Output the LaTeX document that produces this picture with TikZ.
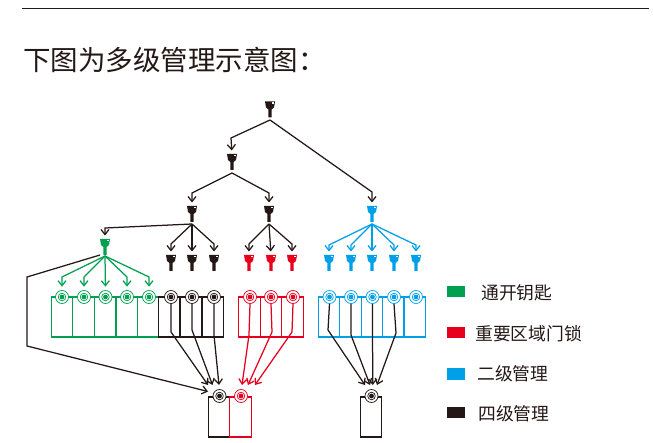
\documentclass[tikz,border=0pt]{standalone}
\usepackage{fontspec}
\setmainfont{Noto Sans CJK SC}
\usepackage{tikz}
\usetikzlibrary{arrows.meta,positioning}
\usepackage{xcolor}
\definecolor{keyblack}{RGB}{35,24,21}
\definecolor{keygreen}{RGB}{0,160,80}
\definecolor{keyred}{RGB}{230,0,30}
\definecolor{keyblue}{RGB}{0,160,233}
\tikzstyle{arrow} = [line width=1.25pt,-{Straight Barb[length=5pt,width=8pt]},color=keyblack]
\tikzstyle{keyarrow} = [arrow,shorten >=3.5pt]

\begin{document}
\begin{tikzpicture}[x=1pt, y=-1pt,
    keynode/.style={rectangle, minimum width=11pt, minimum height=16pt, inner sep=0pt, outer sep=0pt,
      path picture={
        \fill[#1, shift={(path picture bounding box.center)}] (-5,-8) -- (5,-8) -- (4,-2) -- (1.6,0) -- (1.6,8) -- (-1.6,8) -- (-1.6,0) -- (-4,-2) -- cycle;
        \fill[white, shift={(path picture bounding box.center)}] (1.5,-7) rectangle (3.5,-5.5);
      }},
    roombox/.style={rectangle, draw=#1, line width=1.15pt, minimum width=21.5pt, minimum height=40pt, inner sep=0pt, outer sep=0pt},
    lock/.style={circle, draw=#1, fill=white, line width=0.7pt, minimum size=13pt, inner sep=0pt,
      path picture={
        \draw[#1, line width=0.7pt] (path picture bounding box.center) circle (3.8);
        \fill[#1] (path picture bounding box.center) circle (2.4);
      }},
    swatch/.style={rectangle, fill=#1, minimum width=18pt, minimum height=11pt, inner sep=0pt},
    legendtext/.style={anchor=west, inner sep=0pt, font=\fontsize{17.8}{20}\selectfont, text=keyblack}]
\useasboundingbox (0,0) rectangle (653,443);

% Header
\coordinate (ruleleft) at (22,8.5);
\coordinate (ruleright) at (649,8.5);
\draw[keyblack, line width=1pt] (ruleleft) -- (ruleright);
\node[anchor=west, inner sep=0pt, font=\fontsize{27.5}{30}\selectfont, text=keyblack] (title) at (23,60) {下图为多级管理示意图：};

% Keys
\node[keynode=keyblack] (keyroot) at (270,109.5) {};
\node[keynode=keyblack] (keysub) at (232,162) {};
\node[keynode=keyblack] (keyleft) at (192,214) {};
\node[keynode=keyblack] (keymid) at (269,214) {};
\node[keynode=keyblue] (keyright) at (372,214) {};
\node[keynode=keygreen] (keymaster) at (105,247) {};
\foreach \n/\x in {ka/171,kb/192,kc/214} \node[keynode=keyblack] (\n) at (\x,263) {};
\foreach \n/\x in {ra/249,rb/271,rc/292} \node[keynode=keyred] (\n) at (\x,263) {};
\foreach \n/\x in {ba/329,bb/351,bc/372,bd/394,be/416} \node[keynode=keyblue] (\n) at (\x,263) {};

% Rooms
\foreach \n/\x/\l in {ga/62/62,gb/83.5/84,gc/105/105.5,gd/127/127,ge/148/149} {
  \node[roombox=keygreen] (box\n) at (\x,317) {};
  \node[lock=keygreen] (lock\n) at (\l,297) {};
}
\foreach \n/\x/\l in {ka/169/171,kb/191/192,kc/213/214} {
  \node[roombox=keyblack] (box\n) at (\x,317) {};
  \node[lock=keyblack] (lock\n) at (\l,297) {};
}
\foreach \n/\x/\l in {ra/249.5/250,rb/271/271,rc/292.5/293} {
  \node[roombox=keyred] (box\n) at (\x,317) {};
  \node[lock=keyred] (lock\n) at (\l,297) {};
}
\foreach \n/\x/\l in {ba/329/329.5,bb/350.5/351,bc/372/372.5,bd/393.5/394,be/414.5/416} {
  \node[roombox=keyblue] (box\n) at (\x,317) {};
  \node[lock=keyblue] (lock\n) at (\l,297) {};
}

% Bottom rooms
\node[roombox=keyblack] (boxs) at (219,417) {};
\node[roombox=keyred] (boxt) at (240.5,417) {};
\node[roombox=keyblack] (boxu) at (371,417) {};
\node[lock=keyblack] (locks) at (219.5,396) {};
\node[lock=keyred] (lockt) at (241,396) {};
\node[lock=keyblack] (locku) at (371.5,396) {};

% Upper tree
\coordinate (jroot) at (270,120);
\coordinate (jsub) at (232,173);
\coordinate (jleft) at (192,224);
\coordinate (jmid) at (269,224);
\coordinate (jright) at (372,224);
\coordinate (jmaster) at (105,256);
\draw[keyarrow] (jroot) -- (231,138) -- (keysub.north);
\draw[keyarrow] (jroot) -- (372,192) -- (keyright.north);
\draw[keyarrow] (jsub) -- (192,193) -- (keyleft.north);
\draw[keyarrow] (jsub) -- (269,193) -- (keymid.north);
\draw[keyarrow] (jleft) -- (105,228) -- (keymaster.north);

% Lower tree
\foreach \n in {ka,kc} \draw[keyarrow] (jleft) -- (\n.north |- 0,244) -- (\n.north);
\draw[keyarrow] (jleft) -- (kb.north);
\foreach \n in {ra,rc} \draw[keyarrow] (jmid) -- (\n.north |- 0,244) -- (\n.north);
\draw[keyarrow] (jmid) -- (rb.north);
\foreach \n in {ba,bb,bd,be} \draw[keyarrow,keyblue] (jright) -- (\n.north |- 0,245) -- (\n.north);
\draw[keyarrow,keyblue] (jright) -- (bc.north);
\foreach \n in {ga,gb,gd,ge} \draw[keyarrow,keygreen] (jmaster) -- (lock\n.north |- 0,277) -- (lock\n.north);
\draw[keyarrow,keygreen] (jmaster) -- (lockgc.north);

% To the bottom rooms
\coordinate (jkey) at (100,255);
\coordinate (tipz) at (208,391.5);
\coordinate (tipa) at (208,385);
\coordinate (tipb) at (212.5,385);
\coordinate (tipc) at (219,385);
\coordinate (tipd) at (242,385);
\coordinate (tipe) at (248,385);
\coordinate (tipf) at (255,385);
\coordinate (tipg) at (365,385);
\coordinate (tiph) at (370,385);
\coordinate (tipi) at (372.7,385);
\coordinate (tipj) at (377,385);
\draw[arrow] (jkey) -- (27,277) -- (27,346) -- (tipz);
\draw[arrow] (lockka.south) -- (171,332) -- (tipa);
\draw[arrow] (lockkb.south) -- (192,330) -- (tipb);
\draw[arrow] (lockkc.south) -- (214,335) -- (tipc);
\draw[arrow,keyred] (lockra.south) -- (249,335) -- (tipd);
\draw[arrow,keyred] (lockrb.south) -- (272,332) -- (tipe);
\draw[arrow,keyred] (lockrc.south) -- (292,332) -- (tipf);
\draw[arrow] (lockba.south) -- (328,330) -- (tipg);
\draw[arrow] (lockbb.south) -- (351,335) -- (tiph);
\draw[arrow] (lockbc.south) -- (tipi);
\draw[arrow] (lockbd.south) -- (396,333) -- (tipj);

% Legend
\node[swatch=keygreen] (swgreen) at (456,291.5) {};
\node[swatch=keyred] (swred) at (456,332.5) {};
\node[swatch=keyblue] (swblue) at (456,374) {};
\node[swatch=keyblack] (swblack) at (456,412.5) {};
\node[legendtext] (lggreen) at (481,292.5) {通开钥匙};
\node[legendtext] (lgred) at (475,333.5) {重要区域门锁};
\node[legendtext] (lgblue) at (477,374) {二级管理};
\node[legendtext] (lgblack) at (478,413.5) {四级管理};

\end{tikzpicture}
\end{document}
